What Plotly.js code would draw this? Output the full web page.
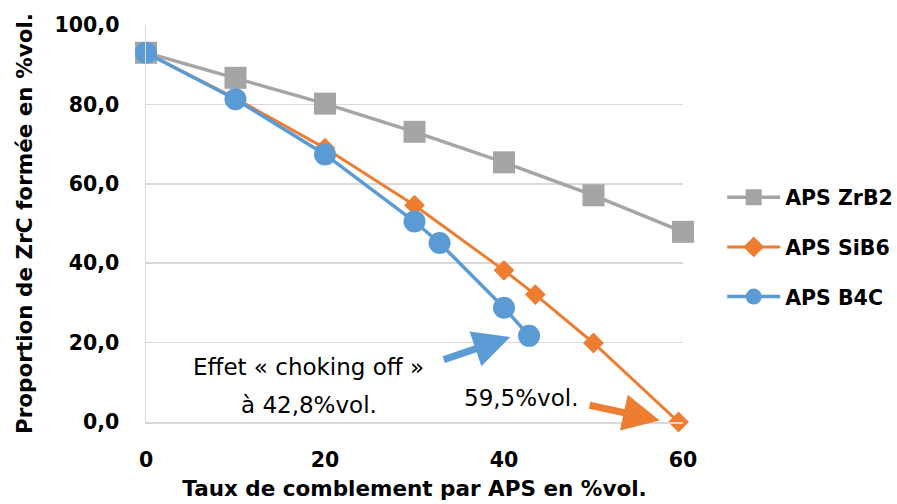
<!DOCTYPE html>
<html><head><meta charset="utf-8">
<script src="https://cdn.plot.ly/plotly-3.0.1.min.js"></script>
<style>body{margin:0;background:#fff}#c{width:897px;height:504px}</style>
</head><body><div id="c"></div>
<script>
const xZrB2 = [0, 10, 20, 30, 40, 50, 60];
const yZrB2 = [93.0, 86.7, 80.2, 73.1, 65.4, 57.1, 47.9];
const xSiB6 = [0, 10, 20, 30, 40, 43.5, 50, 59.5];
const ySiB6 = [93.0, 81.5, 69.0, 54.6, 38.2, 32.1, 19.9, 0];
const xB4C = [0, 10, 20, 30, 32.8, 40, 42.8];
const yB4C = [93.0, 81.3, 67.4, 50.5, 45.1, 28.8, 21.7];
const names = ['APS ZrB2', 'APS SiB6', 'APS B4C'];
const xTicks = [0, 20, 40, 60];
const yTicks = [0, 20, 40, 60, 80, 100];

const bold = {family: 'DejaVu Sans', size: 20.5, color: '#000', weight: 'bold'};
const reg = {family: 'DejaVu Sans', size: 23, color: '#000'};

const traces = [
  {x: xZrB2, y: yZrB2, name: names[0], mode: 'lines+markers', legendgroup: 'a', cliponaxis: false,
   line: {color: '#A5A5A5', width: 3.5}, marker: {symbol: 'square', size: 22, color: '#A5A5A5'}},
  {x: xSiB6, y: ySiB6, name: names[1], mode: 'lines+markers', legendgroup: 'b', cliponaxis: false,
   line: {color: '#ED7D31', width: 3}, marker: {symbol: 'diamond', size: 16, color: '#ED7D31'}},
  {x: xB4C, y: yB4C, name: names[2], mode: 'lines+markers', legendgroup: 'c', cliponaxis: false,
   line: {color: '#5B9BD5', width: 3.5}, marker: {symbol: 'circle', size: 22, color: '#5B9BD5'}}
];

const layout = {
  width: 897, height: 504,
  margin: {l: 146, r: 214, t: 25, b: 82, autoexpand: false},
  paper_bgcolor: '#fff', plot_bgcolor: '#fff',
  showlegend: true,
  legend: {x: 1.073, y: 0.616, xanchor: 'left', yanchor: 'top', font: bold,
           traceorder: 'grouped', tracegroupgap: 20, itemwidth: 53},
  xaxis: {range: [0, 60], tickvals: xTicks, ticktext: xTicks.map(String),
          showgrid: false, zeroline: false, showline: true, linecolor: '#D9D9D9', linewidth: 1.5,
          ticks: '', tickfont: bold, ticklabelstandoff: 19, automargin: false,
          title: {text: 'Taux de comblement par APS en %vol.', font: {family: 'DejaVu Sans', size: 21.5, color: '#000', weight: 'bold'}, standoff: 10}},
  yaxis: {range: [0, 100], tickvals: yTicks, ticktext: yTicks.map(v => v.toFixed(1).replace('.', ',')),
          showgrid: true, gridcolor: '#D9D9D9', gridwidth: 1.5, zeroline: false,
          showline: true, linecolor: '#D9D9D9', linewidth: 1.5, automargin: false,
          ticks: '', tickfont: bold, ticklabelstandoff: 21,
          title: {text: 'Proportion de ZrC formée en %vol.', font: {family: 'DejaVu Sans', size: 21.5, color: '#000', weight: 'bold'}, standoff: 16}},
  annotations: [
    {x: 18.2, y: 13.8, xref: 'x', yref: 'y', text: 'Effet « choking off »', showarrow: false, font: reg},
    {x: 18.2, y: 4.2, xref: 'x', yref: 'y', text: 'à 42,8%vol.', showarrow: false, font: reg},
    {x: 41.9, y: 6.0, xref: 'x', yref: 'y', text: '59,5%vol.', showarrow: false, font: reg},
    {x: 40.7, y: 21.4, ax: 33.1, ay: 15.6, xref: 'x', yref: 'y', axref: 'x', ayref: 'y', text: '',
     showarrow: true, arrowhead: 2, arrowsize: 1.05, arrowwidth: 7, arrowcolor: '#5B9BD5', standoff: 0},
    {x: 57.4, y: 0.4, ax: 49.4, ay: 4.3, xref: 'x', yref: 'y', axref: 'x', ayref: 'y', text: '',
     showarrow: true, arrowhead: 2, arrowsize: 1.05, arrowwidth: 7, arrowcolor: '#ED7D31', standoff: 0}
  ]
};
Plotly.newPlot('c', traces, layout, {displayModeBar: false, staticPlot: true});
</script></body></html>
